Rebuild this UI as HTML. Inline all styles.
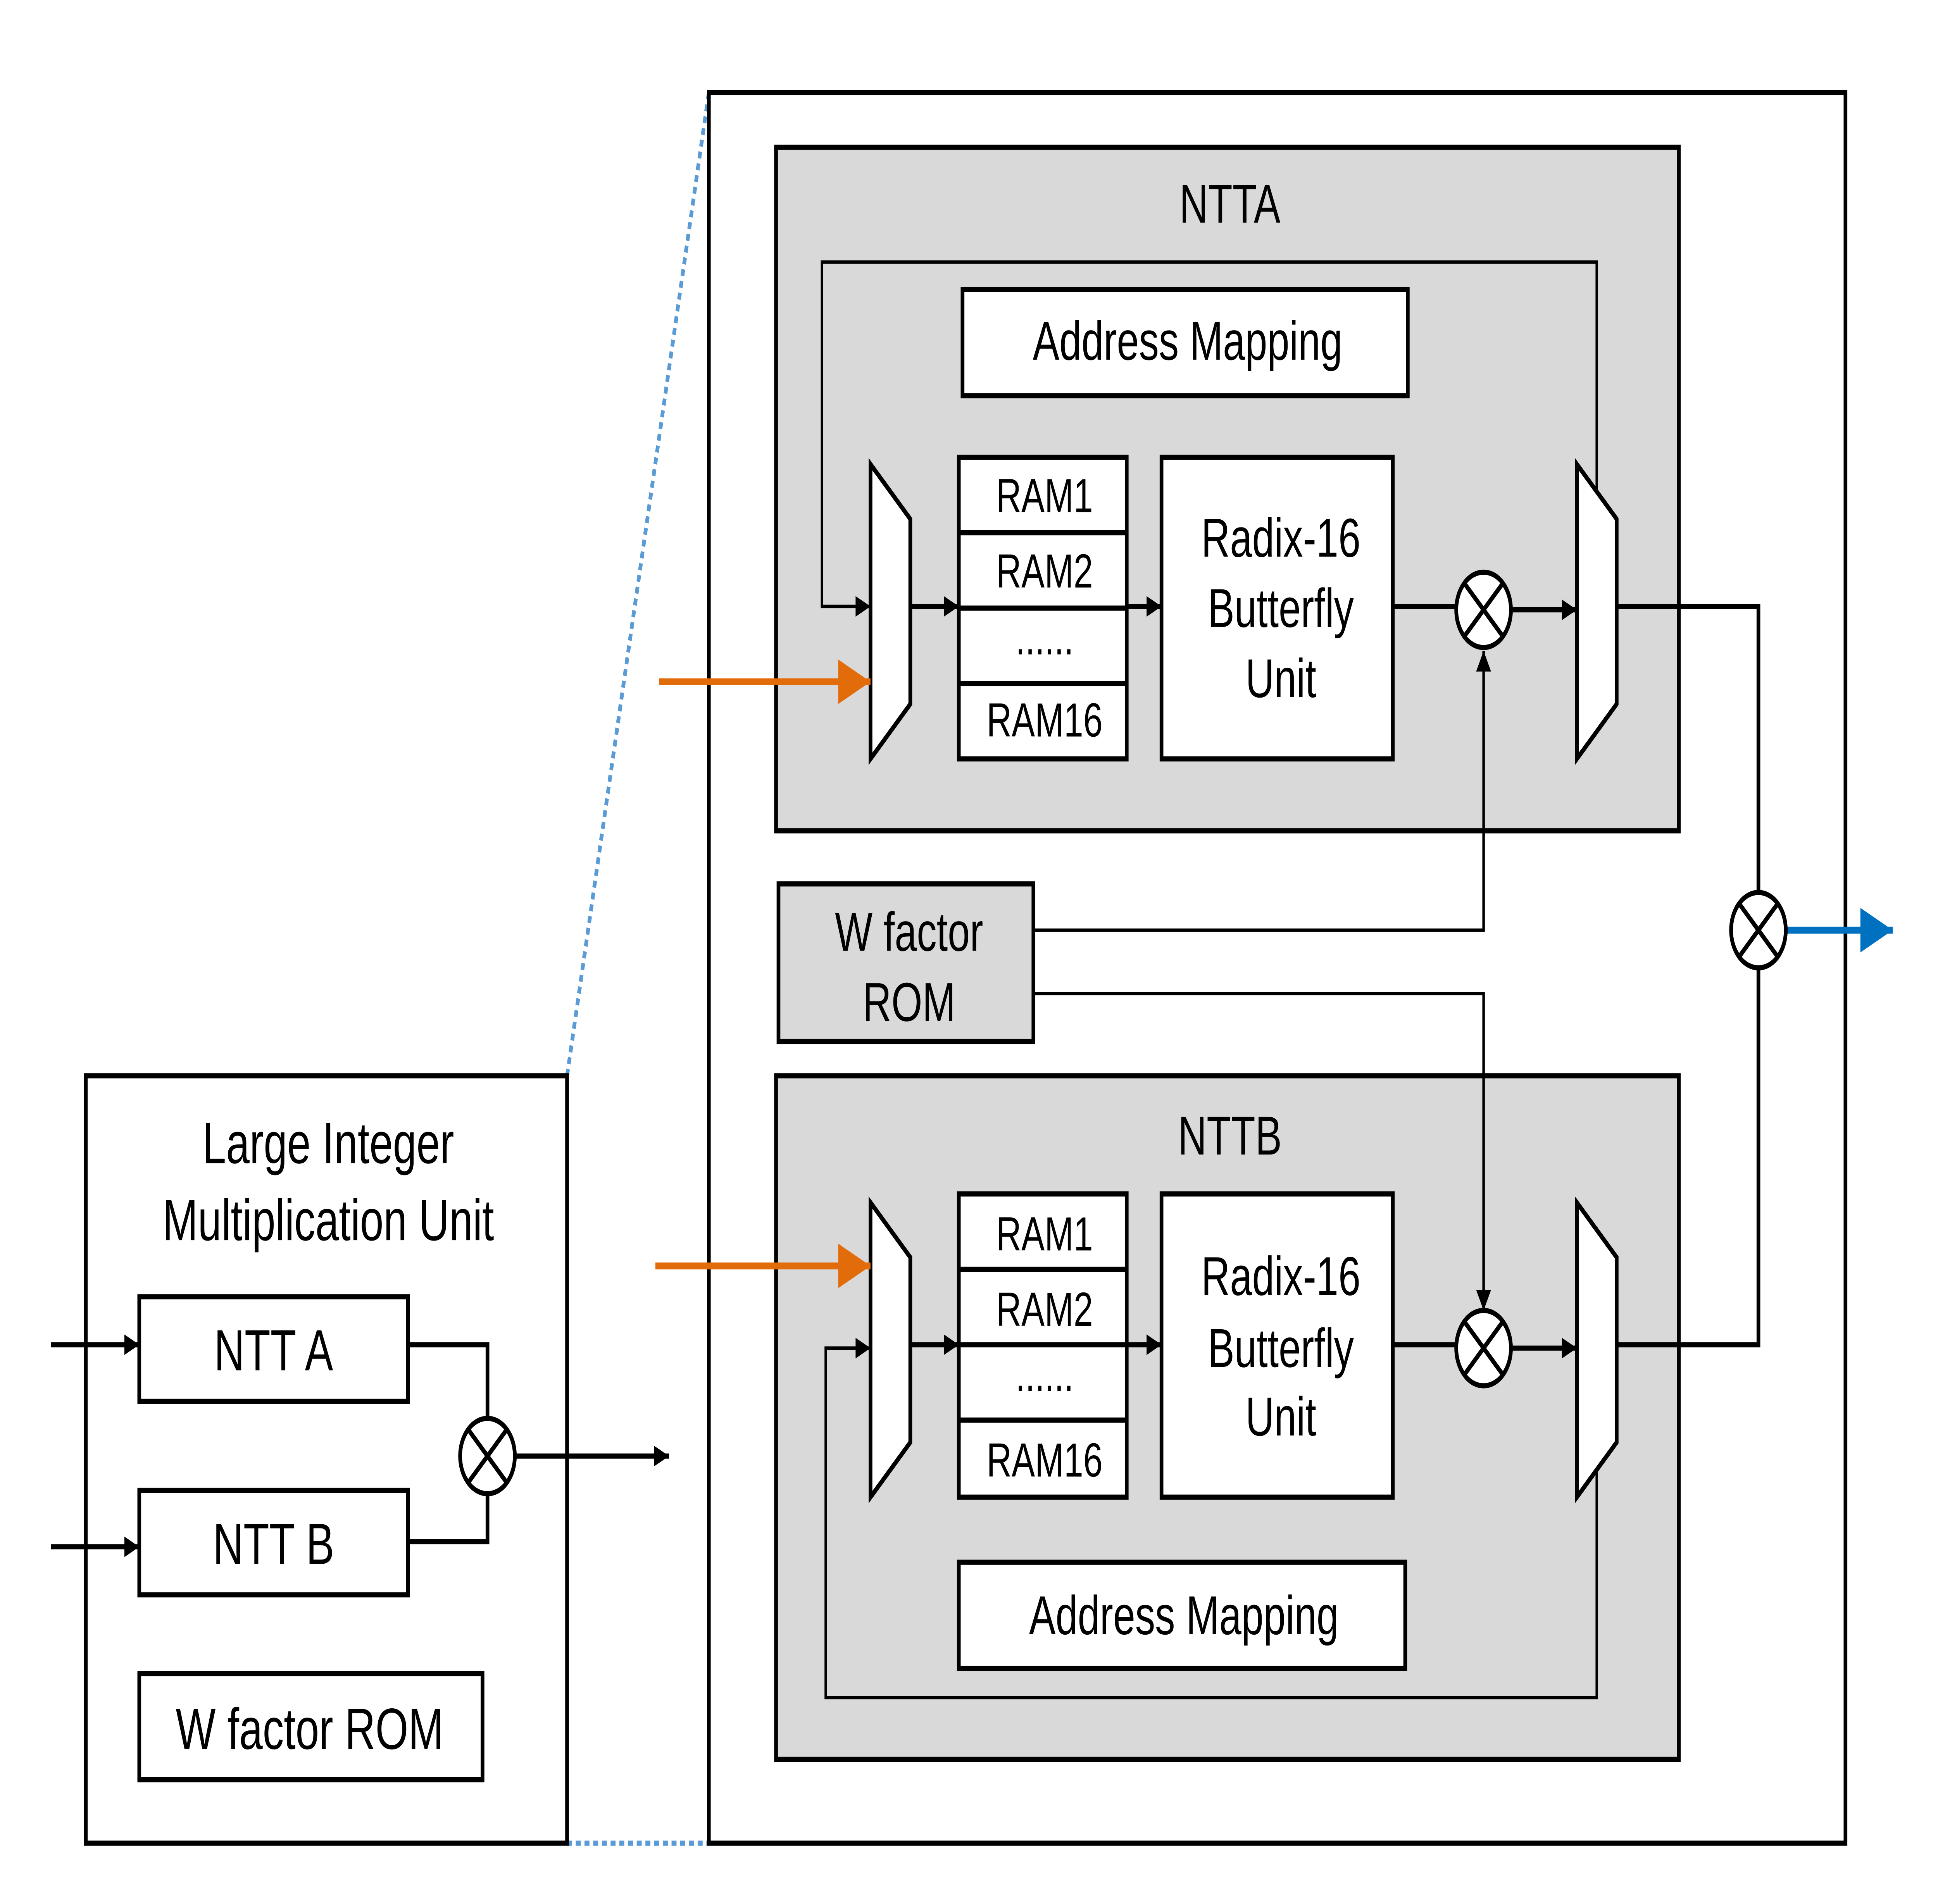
<!DOCTYPE html>
<html><head><meta charset="utf-8"><style>
html,body{margin:0;padding:0;background:#fff;width:100%;height:100%;overflow:hidden;}
svg{display:block;position:fixed;left:0;top:0;width:100vw;height:100vh;}
text{font-family:"Liberation Sans",sans-serif;fill:#000;text-anchor:middle;}
</style></head><body>
<svg viewBox="0 0 1558.4 1111.5" preserveAspectRatio="none" xmlns="http://www.w3.org/2000/svg">
<defs>
<marker id="a" viewBox="0 0 10 10" refX="10" refY="5" markerWidth="13" markerHeight="12" markerUnits="userSpaceOnUse" orient="auto"><path d="M0,0 L10,5 L0,10 z" fill="#000"/></marker>
<marker id="ab" viewBox="0 0 10 10" refX="10" refY="5" markerWidth="28" markerHeight="26" markerUnits="userSpaceOnUse" orient="auto"><path d="M0,0 L10,5 L0,10 z" fill="#0070c0"/></marker>
<marker id="ao" viewBox="0 0 10 10" refX="10" refY="5" markerWidth="28" markerHeight="26" markerUnits="userSpaceOnUse" orient="auto"><path d="M0,0 L10,5 L0,10 z" fill="#e36c0a"/></marker>
</defs>
<g fill="none" stroke-linecap="butt">
<line x1="456" y1="628" x2="570" y2="54" stroke="#5b9bd5" stroke-width="3" stroke-dasharray="4,3"/>
<line x1="456" y1="1076" x2="570" y2="1076" stroke="#5b9bd5" stroke-width="3" stroke-dasharray="4,3"/>
<rect x="570" y="54" width="914" height="1022" stroke="#000" stroke-width="3" fill="#fff"/>
<rect x="624" y="86" width="726" height="399" fill="#d9d9d9" stroke="#000" stroke-width="3"/>
<rect x="624" y="628" width="726" height="399" fill="#d9d9d9" stroke="#000" stroke-width="3"/>
<g stroke="#000" stroke-width="2">
<polyline points="1284,295 1284,153 661,153 661,354 700,354" marker-end="url(#a)"/>
<polyline points="1284,850 1284,991 664,991 664,787 700,787" marker-end="url(#a)"/>
</g>
<g stroke="#000" stroke-width="3" fill="#fff">
<rect x="774" y="169" width="358" height="62"/>
<rect x="771" y="912" width="359" height="62"/>
<polygon points="700,271 732,303 732,411 700,443"/>
<polygon points="1268,271 1300,303 1300,411 1268,443"/>
<polygon points="700,702 732,734 732,842 700,874"/>
<polygon points="1268,702 1300,734 1300,842 1268,874"/>
<rect x="771" y="267" width="135" height="176"/>
<rect x="771" y="697" width="135" height="177"/>
<rect x="934" y="267" width="186" height="176"/>
<rect x="934" y="697" width="186" height="177"/>
<line x1="771" y1="311" x2="906" y2="311"/><line x1="771" y1="355" x2="906" y2="355"/><line x1="771" y1="399" x2="906" y2="399"/>
<line x1="771" y1="741" x2="906" y2="741"/><line x1="771" y1="785" x2="906" y2="785"/><line x1="771" y1="829" x2="906" y2="829"/>
<rect x="626" y="516" width="205" height="92" fill="#d9d9d9"/>
<rect x="69" y="628" width="387" height="448"/>
<rect x="112" y="757" width="216" height="61"/>
<rect x="112" y="870" width="216" height="61"/>
<rect x="112" y="977" width="276" height="62"/>
</g>
<g stroke="#000" stroke-width="3">
<line x1="732" y1="354" x2="771" y2="354" marker-end="url(#a)"/>
<line x1="906" y1="354" x2="934" y2="354" marker-end="url(#a)"/>
<line x1="1120" y1="354" x2="1171" y2="354"/>
<line x1="1215" y1="356" x2="1268" y2="356" marker-end="url(#a)"/>
<line x1="732" y1="785" x2="771" y2="785" marker-end="url(#a)"/>
<line x1="906" y1="785" x2="934" y2="785" marker-end="url(#a)"/>
<line x1="1120" y1="785" x2="1171" y2="785"/>
<line x1="1215" y1="787" x2="1268" y2="787" marker-end="url(#a)"/>
<polyline points="1300,354 1414,354 1414,521"/>
<polyline points="1414,565 1414,785 1300,785"/>
<polyline points="41,785 112,785" marker-end="url(#a)"/>
<polyline points="41,903 112,903" marker-end="url(#a)"/>
<polyline points="328,785 392,785 392,828"/>
<polyline points="328,900 392,900 392,872"/>
<line x1="414" y1="850" x2="538" y2="850" marker-end="url(#a)"/>
</g>
<g stroke="#000" stroke-width="2">
<polyline points="831,543 1193,543 1193,380" marker-end="url(#a)"/>
<polyline points="831,580 1193,580 1193,765" marker-end="url(#a)"/>
</g>
<line x1="1436" y1="543" x2="1522" y2="543" stroke="#0070c0" stroke-width="4" marker-end="url(#ab)"/>
<line x1="530" y1="398" x2="700" y2="398" stroke="#e36c0a" stroke-width="4" marker-end="url(#ao)"/>
<line x1="527" y1="739" x2="700" y2="739" stroke="#e36c0a" stroke-width="4" marker-end="url(#ao)"/>
<g stroke="#000" stroke-width="3" fill="#fff">
<g transform="translate(1193,356)"><circle r="22"/><line x1="-15.5" y1="-15.5" x2="15.5" y2="15.5"/><line x1="15.5" y1="-15.5" x2="-15.5" y2="15.5"/></g>
<g transform="translate(1193,787)"><circle r="22"/><line x1="-15.5" y1="-15.5" x2="15.5" y2="15.5"/><line x1="15.5" y1="-15.5" x2="-15.5" y2="15.5"/></g>
<g transform="translate(1414,543)"><circle r="22"/><line x1="-15.5" y1="-15.5" x2="15.5" y2="15.5"/><line x1="15.5" y1="-15.5" x2="-15.5" y2="15.5"/></g>
<g transform="translate(392,850)"><circle r="22"/><line x1="-15.5" y1="-15.5" x2="15.5" y2="15.5"/><line x1="15.5" y1="-15.5" x2="-15.5" y2="15.5"/></g>
</g>
</g>
<g font-size="32">
<text x="989" y="130">NTTA</text>
<text x="989" y="674">NTTB</text>
<text x="955" y="210">Address Mapping</text>
<text x="952" y="954">Address Mapping</text>
<text x="1030" y="325">Radix-16</text><text x="1030" y="366">Butterfly</text><text x="1030" y="407">Unit</text>
<text x="1030" y="756">Radix-16</text><text x="1030" y="798">Butterfly</text><text x="1030" y="838">Unit</text>
<text x="731" y="555">W factor</text><text x="731" y="596">ROM</text>
</g>
<g font-size="28">
<text x="840" y="299">RAM1</text><text x="840" y="343">RAM2</text><text x="840" y="382">......</text><text x="840" y="430">RAM16</text>
<text x="840" y="730">RAM1</text><text x="840" y="774">RAM2</text><text x="840" y="812">......</text><text x="840" y="862">RAM16</text>
</g>
<g font-size="34">
<text x="264" y="679">Large Integer</text>
<text x="264" y="724">Multiplication Unit</text>
<text x="220" y="800">NTT A</text>
<text x="220" y="913">NTT B</text>
<text x="249" y="1021">W factor ROM</text>
</g>
</svg>
</body></html>
